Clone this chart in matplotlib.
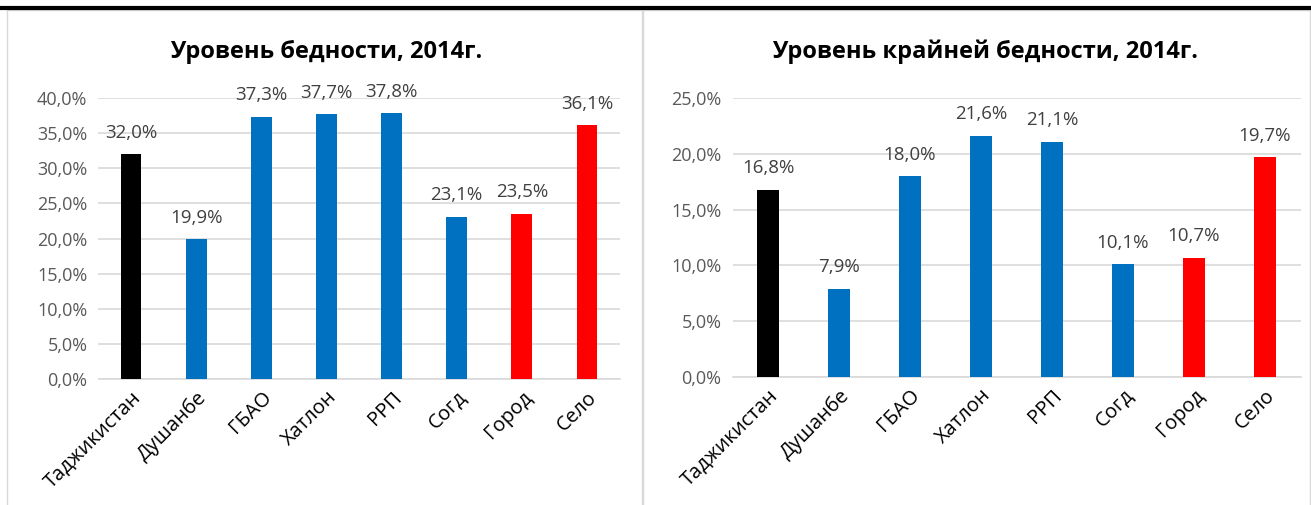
import matplotlib
matplotlib.use('Agg')
import matplotlib.pyplot as plt
from matplotlib.patches import Rectangle
from matplotlib.lines import Line2D
from matplotlib.ticker import FuncFormatter

plt.rcParams['font.family'] = ['Open Sans', 'DejaVu Sans']

regions = ['Таджикистан', 'Душанбе', 'ГБАО', 'Хатлон', 'РРП', 'Согд', 'Город', 'Село']
poverty = [32.0, 19.9, 37.3, 37.7, 37.8, 23.1, 23.5, 36.1]
extreme = [16.8, 7.9, 18.0, 21.6, 21.1, 10.1, 10.7, 19.7]
bar_colors = ['#000000', '#0070C0', '#0070C0', '#0070C0', '#0070C0', '#0070C0', '#FF0000', '#FF0000']
titles = ['Уровень бедности, 2014г.', 'Уровень крайней бедности, 2014г.']

W, H = 1311, 505
fig = plt.figure(figsize=(W / 100, H / 100), dpi=100)

def pct(v, pos=None):
    return f'{v:.1f}%'.replace('.', ',')

# frames around the two charts
for x0, x1 in [(7, 642), (643, 1310)]:
    fig.add_artist(Rectangle((x0 / W, -0.01), (x1 - x0) / W, (H - 10) / H + 0.01,
                             transform=fig.transFigure, fill=False,
                             edgecolor='#d9d9d9', linewidth=1.0))
# heavy rule at top of page
fig.add_artist(Line2D([0, 1], [1 - 7.5 / H, 1 - 7.5 / H], transform=fig.transFigure,
                      color='black', linewidth=3))

def make_panel(rect, values, ymax, step, title, title_x):
    ax = fig.add_axes(rect)
    x = range(len(regions))
    ax.bar(x, values, width=0.32, color=bar_colors, zorder=3)
    ax.set_xlim(-0.5, len(regions) - 0.5)
    ax.set_ylim(0, ymax)
    ax.set_yticks([i * step for i in range(int(ymax / step) + 1)])
    ax.yaxis.set_major_formatter(FuncFormatter(pct))
    ax.grid(axis='y', color='#d9d9d9', linewidth=1.2, zorder=0)
    for s in ['top', 'right', 'left']:
        ax.spines[s].set_visible(False)
    ax.spines['bottom'].set_color('#d9d9d9')
    ax.spines['bottom'].set_linewidth(1.2)
    ax.tick_params(axis='y', length=0, labelsize=13, colors='#595959', pad=8)
    ax.tick_params(axis='x', length=0, pad=6)
    ax.set_xticks(list(x))
    ax.set_xticklabels(regions, rotation=45, ha='right', va='top',
                       rotation_mode='anchor', fontsize=14.5, color='#000000')
    for xi, v in zip(x, values):
        ax.annotate(pct(v), (xi, v), xytext=(0, 9), textcoords='offset points',
                    ha='center', va='bottom', fontsize=13.5, color='#404040')
    fig.text(title_x / W, 1 - 52 / H, title, ha='center', va='center',
             fontsize=17, fontweight='bold', color='black')
    return ax

make_panel([98.5 / W, 1 - 379 / H, (619.5 - 98.5) / W, (379 - 98) / H],
           poverty, 40, 5, titles[0], 326)
make_panel([732.5 / W, 1 - 377 / H, (1300.5 - 732.5) / W, (377 - 98) / H],
           extreme, 25, 5, titles[1], 985)

fig.savefig('out.png', dpi=100)
